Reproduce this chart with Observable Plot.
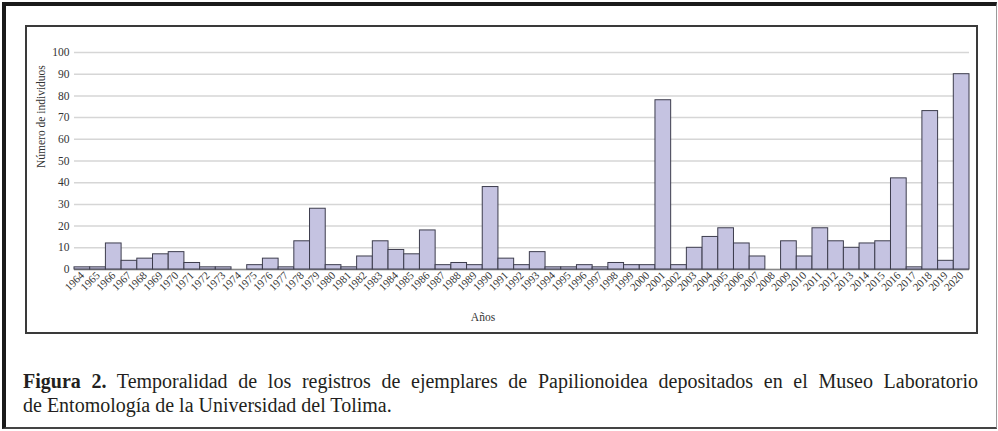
<!DOCTYPE html>
<html>
<head>
<meta charset="utf-8">
<script src="https://cdn.jsdelivr.net/npm/d3@7"></script>
<script src="https://cdn.jsdelivr.net/npm/@observablehq/plot@0.6"></script>
<style>
  html, body { margin: 0; padding: 0; background: #fff; }
  body { width: 998px; height: 431px; position: relative; overflow: hidden; font-family: "Liberation Serif", "Times New Roman", serif; }
  #outer { position: absolute; left: 2px; top: 2px; width: 995px; height: 427px; box-sizing: border-box;
    border-top: 4px solid #1a1a1a; border-left: 4px solid #1a1a1a; border-right: 1px solid #9a9a9a; border-bottom: 2px solid #444; }
  #inner { position: absolute; left: 25px; top: 25px; width: 953px; height: 309px; box-sizing: border-box;
    border: 2px solid #3a3a3a; }
  #chart { position: absolute; left: 0; top: 0; }
  #chart svg text { font-family: "Liberation Serif", "Times New Roman", serif; }
  .cap { position: absolute; left: 23px; width: 955px; font-size: 20px; line-height: 24px; color: #231f20; white-space: nowrap; }
  #cap1 { top: 369px; text-align: justify; text-align-last: justify; white-space: normal; }
  #cap2 { top: 393px; }
</style>
</head>
<body>
<div id="outer"></div>
<div id="inner"></div>
<div id="chart"></div>
<div class="cap" id="cap1"><b>Figura 2.</b> Temporalidad de los registros de ejemplares de Papilionoidea depositados en el Museo Laboratorio</div>
<div class="cap" id="cap2">de Entomología de la Universidad del Tolima.</div>
<script>
const years = ["1964","1965","1966","1967","1968","1969","1970","1971","1972","1973","1974","1975","1976","1977","1978","1979","1980","1981","1982","1983","1984","1985","1986","1987","1988","1989","1990","1991","1992","1993","1994","1995","1996","1997","1998","1999","2000","2001","2002","2003","2004","2005","2006","2007","2008","2009","2010","2011","2012","2013","2014","2015","2016","2017","2018","2019","2020"];
const individuos = [1,1,12,4,5,7,8,3,1,1,0,2,5,1,13,28,2,1,6,13,9,7,18,2,3,2,38,5,2,8,1,1,2,1,3,2,2,78,2,10,15,19,12,6,0,13,6,19,13,10,12,13,42,1,73,4,90];
const yTicks = [0,10,20,30,40,50,60,70,80,90,100];
const yLabel = "Número de individuos";
const xLabel = "Años";

const data = years.map((y, i) => ({year: y, value: individuos[i]}));

const chart = Plot.plot({
  width: 998,
  height: 340,
  marginLeft: 74,
  marginRight: 29,
  marginTop: 52,
  marginBottom: 71,
  style: "background: transparent; overflow: visible; font-family: 'Liberation Serif', 'Times New Roman', serif; color: #333;",
  x: {type: "band", domain: years, padding: 0},
  y: {domain: [0, 100]},
  marks: [
    Plot.gridY(yTicks, {stroke: "#d6d6d6", strokeOpacity: 1, strokeWidth: 1.5}),
    Plot.ruleY([0], {stroke: "#888", strokeWidth: 1.5}),
    Plot.barY(data.filter(d => d.value > 0), {x: "year", y: "value", fill: "#c5c3e1", stroke: "#3d3d4d", strokeWidth: 1}),
    Plot.axisY(yTicks, {tickSize: 0, tickPadding: 5, fontSize: 11.5, label: null}),
    Plot.axisX({tickRotate: -45, tickSize: 0, tickPadding: 4, fontSize: 11, label: null}),
    Plot.text([xLabel], {frameAnchor: "bottom", dx: -39, dy: 51, fontSize: 11.5}),
    Plot.text([yLabel], {frameAnchor: "left", rotate: -90, dx: -33, dy: 7, fontSize: 11.5})
  ]
});
document.getElementById("chart").appendChild(chart);
</script>
</body>
</html>
